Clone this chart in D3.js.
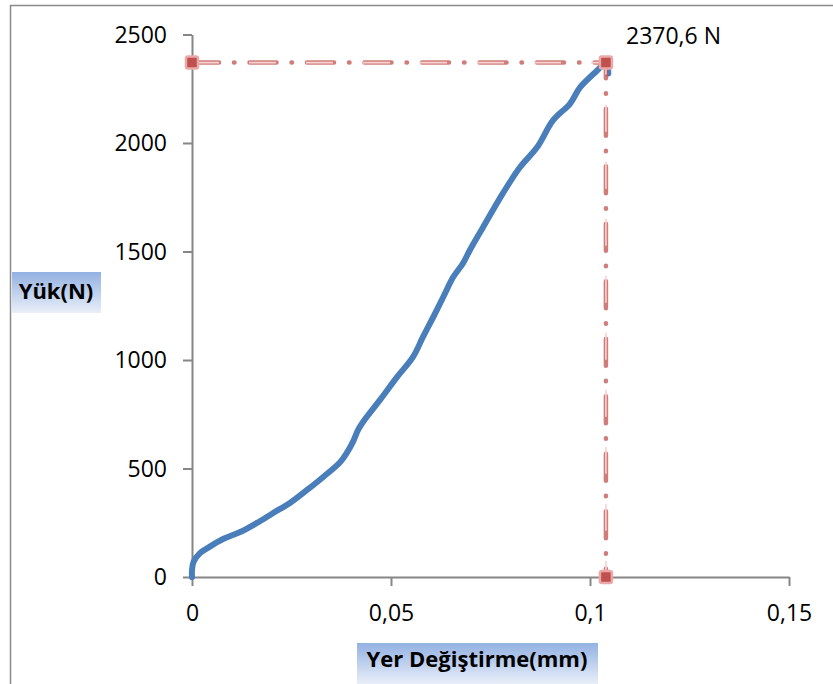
<!DOCTYPE html>
<html><head><meta charset="utf-8">
<script src="https://cdn.jsdelivr.net/npm/d3@7"></script>
<style>body{margin:0;background:#fff}svg{display:block}</style>
</head><body>
<svg id="c" width="833" height="684"></svg>
<script>
// Data
const displacement = [0, 0, 0.0004, 0.0020, 0.0045, 0.0078, 0.0121, 0.0163, 0.0204, 0.0246, 0.0289, 0.0329, 0.0372, 0.0390, 0.0405, 0.0418, 0.0435, 0.0472, 0.0515, 0.0555, 0.0580, 0.0606, 0.0631, 0.0656, 0.0681, 0.0698, 0.0731, 0.0781, 0.0824, 0.0867, 0.0907, 0.0950, 0.0975, 0.1018, 0.1040, 0.1045, 0.1046];
const load = [0, 30, 70, 110, 140, 175, 207, 249, 295, 341, 401, 460, 529, 575, 625, 680, 728, 815, 921, 1013, 1105, 1197, 1289, 1381, 1446, 1506, 1611, 1768, 1888, 1980, 2104, 2182, 2256, 2334, 2370.6, 2345, 2320];
const maxPointX = [0, 0.104, 0.104];
const maxPointY = [2370.6, 2370.6, 0];
const xTicks = [0, 0.05, 0.1, 0.15];
const yTicks = [0, 500, 1000, 1500, 2000, 2500];
const maxLabel = "2370,6 N";
const xTitle = "Yer Değiştirme(mm)";
const yTitle = "Yük(N)";

const svg = d3.select("#c");
const x = d3.scaleLinear().domain([0, 0.15]).range([192, 789]);
const y = d3.scaleLinear().domain([0, 2500]).range([577, 34.5]);
const fmt = d => String(d).replace(".", ",");

// gradient
const defs = svg.append("defs");
const g = defs.append("linearGradient").attr("id", "lg").attr("x1", 0).attr("y1", 0).attr("x2", 0).attr("y2", 1);
g.append("stop").attr("offset", "0%").attr("stop-color", "#93b1e2");
g.append("stop").attr("offset", "100%").attr("stop-color", "#e9eff9");

// outer frame (left and top)
svg.append("path").attr("d", "M10.5,684 V5.5 H833").attr("fill", "none").attr("stroke", "#8a8a8a").attr("stroke-width", 1.5);

// axes
const axisColor = "#868686";
const xAxis = svg.append("g").attr("transform", "translate(0,577)")
  .call(d3.axisBottom(x).tickValues(xTicks).tickFormat(fmt).tickSize(9).tickSizeOuter(0));
const yAxis = svg.append("g").attr("transform", "translate(192,0)")
  .call(d3.axisLeft(y).tickValues(yTicks).tickFormat(d => d).tickSize(9).tickSizeOuter(0));
[xAxis, yAxis].forEach(a => {
  a.select(".domain").attr("stroke", axisColor).attr("stroke-width", 2);
  a.selectAll(".tick line").attr("stroke", axisColor).attr("stroke-width", 2);
  a.selectAll("text").attr("fill", "#000").style("font-family", "'Open Sans', sans-serif").style("font-size", "23px");
});
xAxis.selectAll(".tick text").attr("y", 28);
yAxis.selectAll(".tick text").attr("x", -25).attr("dy", "0.34em");

// curve
const pts = displacement.map((d, i) => [d, load[i]]);
svg.append("path").datum(pts)
  .attr("d", d3.line().x(d => x(d[0])).y(d => y(d[1])).curve(d3.curveCatmullRom.alpha(0.5)))
  .attr("fill", "none").attr("stroke", "#4a7ebb").attr("stroke-width", 6)
  .attr("stroke-linejoin", "round").attr("stroke-linecap", "round");

// dash-dot guide lines
const gl = maxPointX.map((d, i) => [d, maxPointY[i]]);
const guide = d3.line().x(d => x(d[0])).y(d => y(d[1]));
svg.append("path").datum(gl).attr("d", guide).attr("fill", "none")
  .attr("stroke", "#c0504d").attr("stroke-opacity", 0.75).attr("stroke-width", 4.5)
  .attr("stroke-dasharray", "27,15,0.5,15").attr("stroke-linecap", "round");
svg.append("path").datum(gl).attr("d", guide).attr("fill", "none")
  .attr("stroke", "#f6d3d2").attr("stroke-width", 1.6)
  .attr("stroke-dasharray", "27,15,0.001,15").attr("stroke-linecap", "butt");

// markers
svg.selectAll("rect.m").data(gl).join("rect").attr("class", "m")
  .attr("x", d => x(d[0]) - 6).attr("y", d => y(d[1]) - 6)
  .attr("width", 12).attr("height", 12).attr("rx", 2)
  .attr("fill", "#c0504d").attr("stroke", "#eaa9a8").attr("stroke-width", 2.5);

// max label
svg.append("text").attr("x", 626).attr("y", 44).text(maxLabel)
  .style("font-family", "'Open Sans', sans-serif").style("font-size", "23px").attr("fill", "#000");

// axis title boxes
function titleBox(bx, by, bw, bh, txt, tx, ty) {
  svg.append("rect").attr("x", bx).attr("y", by).attr("width", bw).attr("height", bh).attr("fill", "url(#lg)");
  svg.append("text").attr("x", tx).attr("y", ty).attr("text-anchor", "middle").text(txt)
    .style("font-family", "'Open Sans', sans-serif").style("font-weight", "bold").style("font-size", "22px").attr("fill", "#000");
}
titleBox(12, 272, 89, 41, yTitle, 56, 299);
titleBox(357, 643, 241, 41, xTitle, 477, 667);
</script>
</body></html>
